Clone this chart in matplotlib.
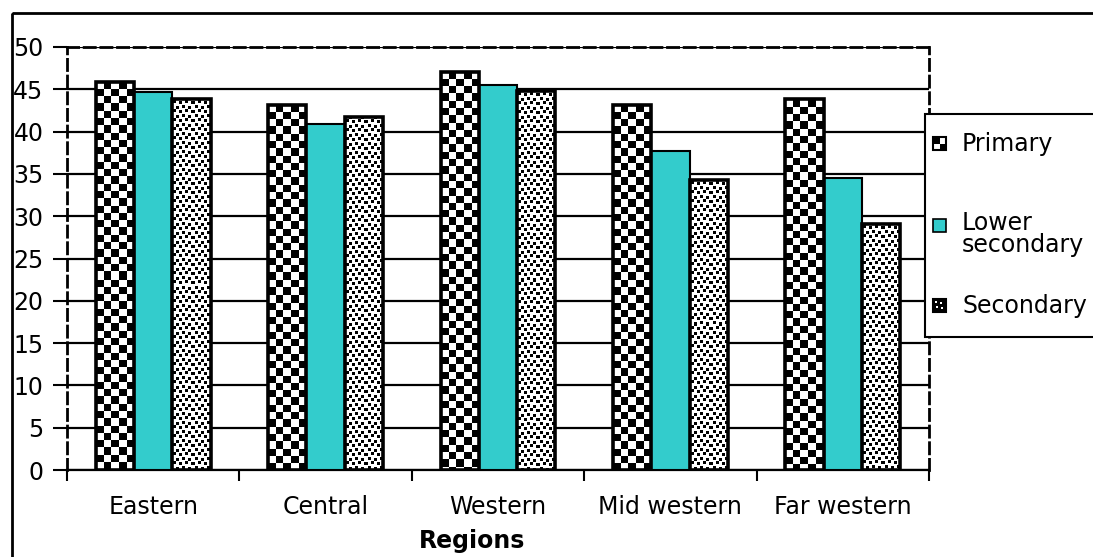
import numpy as np
import matplotlib
matplotlib.use("Agg")
import matplotlib.pyplot as plt
from matplotlib.patches import Rectangle

# ---- data -------------------------------------------------------------
regions = ["Eastern", "Central", "Western", "Mid western", "Far western"]
series_names = ["Primary", "Lower\nsecondary", "Secondary"]
primary = [45.9, 43.2, 47.1, 43.2, 43.8]
lower_secondary = [44.7, 40.9, 45.5, 37.7, 34.5]
secondary = [43.9, 41.7, 44.8, 34.3, 29.1]
y_ticks = [0, 5, 10, 15, 20, 25, 30, 35, 40, 45, 50]

W, H = 1093, 557
TEAL = "#33CCCC"
FONT = "DejaVu Sans"
FS = 17
plt.rcParams["font.family"] = FONT


def checker(nx, ny, s=7.3):
    ix = np.arange(nx)[None, :]
    iy = np.arange(ny)[:, None]
    m = ((np.floor(ix / s) + np.floor(iy / s)) % 2).astype(bool)
    img = np.ones((ny, nx, 3))
    img[m] = 0.0
    return img


def dots(nx, ny):
    # 12x9 tile with four 3x3 dots, staggered
    tile = np.zeros((9, 12), bool)
    for cx, cy in [(0, 0), (6, 1), (3, 4), (9, 5)]:
        tile[cy:cy + 3, cx:cx + 3] = True
    reps_y = ny // 9 + 2
    reps_x = nx // 12 + 2
    big = np.tile(tile, (reps_y, reps_x))[2:ny + 2, 2:nx + 2]
    img = np.ones((ny, nx, 3))
    img[big] = 0.0
    return img


fig = plt.figure(figsize=(W / 100, H / 100), dpi=100)
x_left, x_right, y_top, y_bot = 67, 929, 47, 470
ax = fig.add_axes([x_left / W, (H - y_bot) / H,
                   (x_right - x_left) / W, (y_bot - y_top) / H])

n = len(regions)
xs = np.arange(n)
bw = 1 / 4.5
XLIM = (-0.5, n - 0.5)
YLIM = (0, 50)
ax.set_xlim(*XLIM)
ax.set_ylim(*YLIM)

# grid
ax.set_axisbelow(True)
ax.yaxis.grid(True, color="black", lw=1.6)
ax.set_yticks(y_ticks)

# bars
b1 = ax.bar(xs - bw, primary, bw, facecolor="white", edgecolor="none", zorder=3)
b2 = ax.bar(xs, lower_secondary, bw, facecolor=TEAL, edgecolor="black", lw=1.5, zorder=4)
b3 = ax.bar(xs + bw, secondary, bw, facecolor="white", edgecolor="none", zorder=3)

for bars, maker in [(b1, checker), (b3, dots)]:
    for rect in bars:
        x0, y0 = rect.get_x(), rect.get_y()
        w, h = rect.get_width(), rect.get_height()
        p0 = ax.transData.transform((x0, y0))
        p1 = ax.transData.transform((x0 + w, y0 + h))
        nx = max(int(round(abs(p1[0] - p0[0]))), 1)
        ny = max(int(round(abs(p1[1] - p0[1]))), 1)
        im = ax.imshow(maker(nx, ny), extent=[x0, x0 + w, y0, y0 + h],
                       origin="upper", interpolation="nearest",
                       aspect="auto", zorder=3.5)
        im.set_clip_path(rect)
    ax.bar([r.get_x() + r.get_width() / 2 for r in bars],
           [r.get_height() for r in bars], bw,
           facecolor="none", edgecolor="black", lw=2.6, zorder=5)

ax.set_xlim(*XLIM)
ax.set_ylim(*YLIM)

# axes styling
for side in ["left", "right", "top"]:
    ax.spines[side].set_linestyle((0, (4, 2)))
    ax.spines[side].set_linewidth(2)
    ax.spines[side].set_color("black")
ax.spines["bottom"].set_linewidth(1.6)

ax.set_xticks(xs)
ax.set_xticklabels(regions, fontsize=FS)
ax.set_xticks(np.arange(n + 1) - 0.5, minor=True)
ax.tick_params(axis="x", which="major", length=0, pad=18)
ax.tick_params(axis="x", which="minor", length=8, width=1.5, direction="out")
ax.tick_params(axis="y", length=10, width=1.5, direction="out", pad=7, labelsize=FS)

# overlay in pixel coordinates for border, legend and axis title
ov = fig.add_axes([0, 0, 1, 1], zorder=10)
ov.set_xlim(0, W)
ov.set_ylim(H, 0)
ov.axis("off")

ov.add_patch(Rectangle((12, 13), W + 50, H + 50, facecolor="none",
                       edgecolor="black", lw=2))
ov.text(472, 541, "Regions", fontsize=FS, fontweight="bold",
        ha="center", va="center")

# legend
ov.add_patch(Rectangle((925, 114), 200, 223, facecolor="white",
                       edgecolor="black", lw=1.5))
ms = 13
mx = 933
# primary marker: 2x2 checker
m1y = 137
ov.add_patch(Rectangle((mx, m1y), ms, ms, facecolor="white", edgecolor="none"))
ov.add_patch(Rectangle((mx, m1y), ms / 2, ms / 2, facecolor="black", edgecolor="none"))
ov.add_patch(Rectangle((mx + ms / 2, m1y + ms / 2), ms / 2, ms / 2,
                       facecolor="black", edgecolor="none"))
ov.add_patch(Rectangle((mx, m1y), ms, ms, facecolor="none", edgecolor="black", lw=1.5))
ov.text(962, m1y + ms / 2, series_names[0], fontsize=FS, va="center", ha="left")
# lower secondary marker
m2y = 219
ov.add_patch(Rectangle((mx, m2y), ms, ms, facecolor=TEAL, edgecolor="black", lw=1.2))
ov.text(962, 234, series_names[1], fontsize=FS, va="center",
        ha="left", linespacing=0.9)
# secondary marker: dark with light dots
m3y = 299
ov.add_patch(Rectangle((mx, m3y), ms, ms, facecolor="black", edgecolor="black", lw=1.5))
for dx, dy in [(3, 3), (8, 4), (4, 8), (8.5, 8.5)]:
    ov.add_patch(Rectangle((mx + dx - 1, m3y + dy - 1), 2, 2, facecolor="white",
                           edgecolor="none"))
ov.text(962, m3y + ms / 2, series_names[2], fontsize=FS, va="center", ha="left")

fig.savefig("out.png", dpi=100)
